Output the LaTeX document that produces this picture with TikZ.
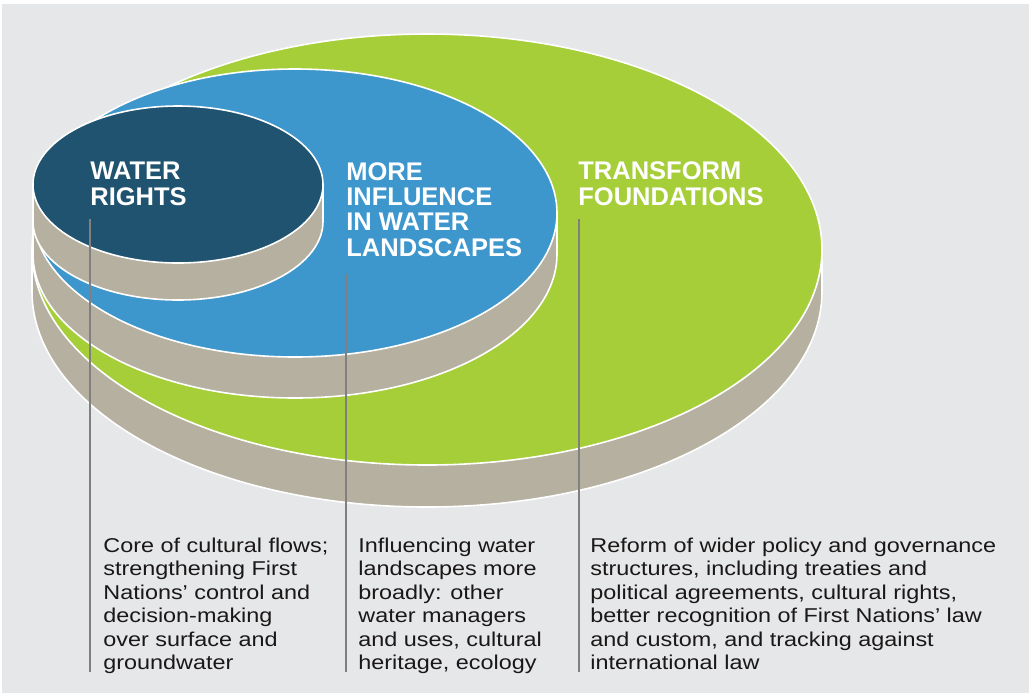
\documentclass[tikz,border=0pt]{standalone}
\usepackage{fontspec}
\setmainfont{Liberation Sans}
\newfontfamily\notefont[FakeStretch=1.17]{Liberation Sans}

\definecolor{paper}{HTML}{E6E7E8}
\definecolor{greenface}{HTML}{A6CE39}
\definecolor{blueface}{HTML}{3D97CD}
\definecolor{darkface}{HTML}{1F536F}
\definecolor{rimgray}{HTML}{B5B0A0}
\definecolor{leadergray}{HTML}{808080}
\definecolor{notetext}{HTML}{1A1718}

\tikzset{
  rim/.style={fill=rimgray, draw=white, line width=0.8pt},
  face/.style={draw=white, line width=0.8pt},
  heading/.style={anchor=base west, inner sep=0pt, align=left, text=white,
    font=\bfseries\fontsize{12.75}{12.65}\selectfont},
  note/.style={anchor=base west, inner sep=0pt, align=left, text=notetext,
    font=\notefont\fontsize{10}{11.75}\selectfont},
  leader/.style={draw=leadergray, line width=0.7pt},
}

\begin{document}
\begin{tikzpicture}[x=0.5pt, y=-0.5pt]
\useasboundingbox (0,0) rectangle (1029,693);
\fill[paper] (2,4) rectangle (1029,693);

% three stacked discs, largest first: rim, then top face
\foreach \cx/\cy/\rx/\ry/\t/\col in {427/249.5/395/215.5/42/greenface,
    295/213/262/144/41/blueface, 178/184.5/145/78.5/37/darkface}{
  \draw[rim] (\cx-\rx,\cy) -- ++(0,\t)
    arc[start angle=180, end angle=0, x radius=\rx, y radius=\ry]
    -- ++(0,-\t) -- cycle;
  \draw[face, fill=\col] (\cx,\cy) ellipse[x radius=\rx, y radius=\ry];
}

% headings on the discs (placed by the baseline of their last line)
\node[heading] (wr) at (90,205) {WATER\\RIGHTS};
\node[heading] (mi) at (346,256) {MORE\\INFLUENCE\\IN WATER\\LANDSCAPES};
\node[heading] (tf) at (578,205) {TRANSFORM\\FOUNDATIONS};

% notes below
\node[note] (wr-note) at (103,669.5) {Core of cultural flows;\\strengthening First\\Nations’ control and\\decision-making\\over surface and\\groundwater};
\node[note] (mi-note) at (358,669.5) {Influencing water\\landscapes more\\broadly: other\\water managers\\and uses, cultural\\heritage, ecology};
\node[note] (tf-note) at (590,669.5) {Reform of wider policy and governance\\structures, including treaties and\\political agreements, cultural rights,\\better recognition of First Nations’ law\\and custom, and tracking against\\international law};

\coordinate (wr-end) at (90,672);
\coordinate (mi-end) at (346,672);
\coordinate (tf-end) at (579,672);

\draw[leader] ([yshift=-6.5pt]wr.south west) -- (wr-end);
\draw[leader] ([yshift=-8.5pt]mi.south west) -- (mi-end);
\draw[leader] ([xshift=0.5pt, yshift=-6.5pt]tf.south west) -- (tf-end);
\end{tikzpicture}
\end{document}
